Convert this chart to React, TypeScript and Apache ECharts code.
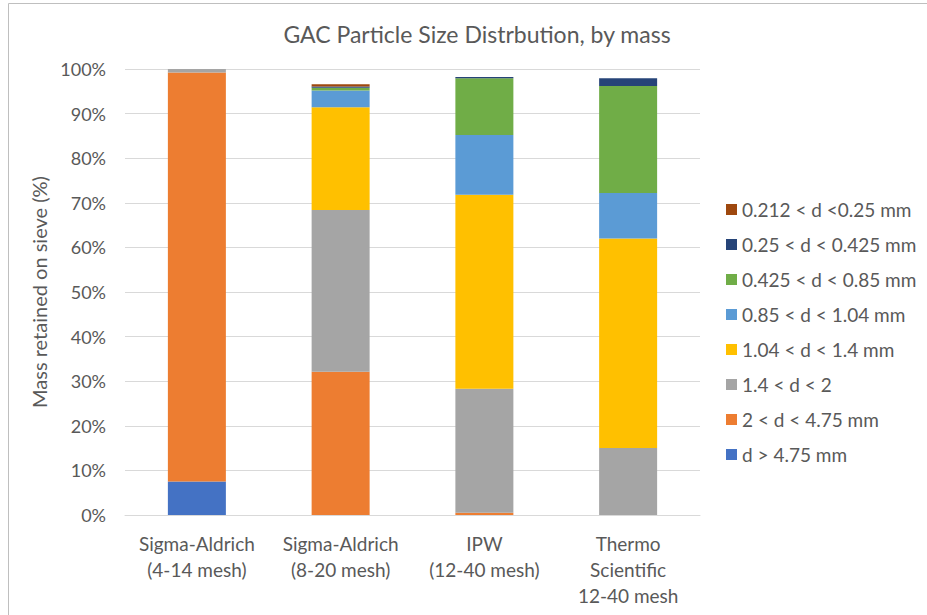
import React, { useEffect, useRef } from "react";
import * as echarts from "echarts";

const categories = [
  "Sigma-Aldrich\n(4-14 mesh)",
  "Sigma-Aldrich\n(8-20 mesh)",
  "IPW\n(12-40 mesh)",
  "Thermo\nScientific\n12-40 mesh",
];

const seriesNames = [
  "d > 4.75 mm",
  "2 < d < 4.75 mm",
  "1.4 < d < 2",
  "1.04 < d < 1.4 mm",
  "0.85 < d < 1.04 mm",
  "0.425 < d < 0.85 mm",
  "0.25 < d < 0.425 mm",
  "0.212 < d <0.25 mm",
];

const seriesColors = [
  "#4472C4",
  "#ED7D31",
  "#A5A5A5",
  "#FFC000",
  "#5B9BD5",
  "#70AD47",
  "#264478",
  "#9E480E",
];

// values in % (fractions of mass), per category
const dOver475 = [7.5, 0, 0, 0];
const d2to475 = [91.7, 32.1, 0.5, 0];
const d14to2 = [0.8, 36.3, 27.8, 15.0];
const d104to14 = [0, 23.0, 43.5, 47.0];
const d085to104 = [0, 3.8, 13.4, 10.2];
const d0425to085 = [0, 0.6, 12.7, 24.0];
const d025to0425 = [0, 0.3, 0.3, 1.7];
const d0212to025 = [0, 0.5, 0, 0];

const seriesValues = [
  dOver475,
  d2to475,
  d14to2,
  d104to14,
  d085to104,
  d0425to085,
  d025to0425,
  d0212to025,
];

const yTicks = [0, 10, 20, 30, 40, 50, 60, 70, 80, 90, 100];

const FONT = "Lato, 'Liberation Sans', sans-serif";
const TEXT = "#595959";

export default function App() {
  const ref = useRef<HTMLDivElement>(null);
  useEffect(() => {
    document.body.style.margin = "0";
    const chart = echarts.init(ref.current!, null, { renderer: "svg" });
    chart.setOption({
      animation: false,
      backgroundColor: "#ffffff",
      textStyle: { fontFamily: FONT, color: TEXT },
      title: {
        text: "GAC Particle Size Distrbution, by mass",
        left: 472,
        top: 17,
        textAlign: "center",
        textStyle: { fontFamily: FONT, fontSize: 23, fontWeight: "normal", color: TEXT },
      },
      graphic: [
        {
          type: "rect",
          shape: { x: 8.5, y: 3.5, width: 1200, height: 1200 },
          style: { fill: "none", stroke: "#BFBFBF", lineWidth: 1 },
          silent: true,
        },
      ],
      legend: {
        orient: "vertical",
        left: 721,
        top: 195,
        itemWidth: 11,
        itemHeight: 11,
        itemGap: 16,
        icon: "rect",
        data: [...seriesNames].reverse(),
        textStyle: { fontFamily: FONT, fontSize: 19, color: TEXT },
      },
      grid: { left: 125, right: 227, top: 69, bottom: 100, containLabel: false },
      xAxis: {
        type: "category",
        data: categories,
        axisLine: { lineStyle: { color: "#D9D9D9" } },
        axisTick: { show: false },
        axisLabel: {
          fontFamily: FONT,
          fontSize: 19,
          color: TEXT,
          lineHeight: 26,
          margin: 15,
          interval: 0,
        },
      },
      yAxis: {
        type: "value",
        min: yTicks[0],
        max: yTicks[yTicks.length - 1],
        interval: 10,
        name: "Mass retained on sieve (%)",
        nameLocation: "middle",
        nameGap: 74,
        nameTextStyle: { fontFamily: FONT, fontSize: 20, color: TEXT },
        axisLine: { show: false },
        axisTick: { show: false },
        splitLine: { lineStyle: { color: "#D9D9D9" } },
        axisLabel: {
          fontFamily: FONT,
          fontSize: 18,
          color: TEXT,
          margin: 19,
          formatter: (v: number) => `${v}%`,
        },
      },
      series: seriesNames.map((name, i) => ({
        name,
        type: "bar",
        stack: "total",
        barWidth: 58,
        data: seriesValues[i],
        itemStyle: { color: seriesColors[i], borderColor: "#ffffff", borderWidth: 0 },
      })),
    });
    return () => chart.dispose();
  }, []);
  return <div ref={ref} style={{ width: 927, height: 615 }} />;
}
